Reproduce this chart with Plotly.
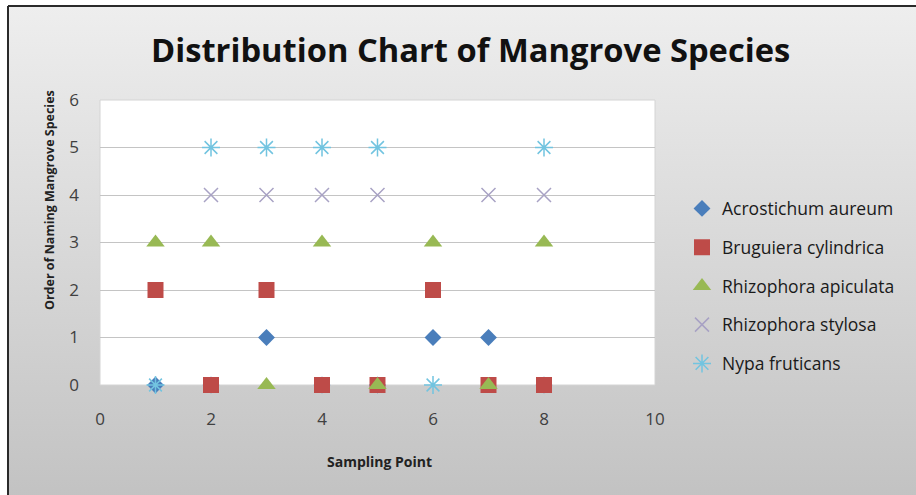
import plotly.graph_objects as go
import base64

# ---------------- data ----------------
sampling_points = [1, 2, 3, 4, 5, 6, 7, 8]
acrostichum_aureum = [0, 0, 1, 0, 0, 1, 1, 0]
bruguiera_cylindrica = [2, 0, 2, 0, 0, 2, 0, 0]
rhizophora_apiculata = [3, 3, 0, 3, 0, 3, 0, 3]
rhizophora_stylosa = [None, 4, 4, 4, 4, None, 4, 4]
nypa_fruticans = [0, 5, 5, 5, 5, 0, None, 5]
x_ticks = [0, 2, 4, 6, 8, 10]
y_ticks = [0, 1, 2, 3, 4, 5, 6]

series = [
    ("Acrostichum aureum", acrostichum_aureum, dict(symbol="diamond", size=13, color="#4a7ebb")),
    ("Bruguiera cylindrica", bruguiera_cylindrica, dict(symbol="square", size=16, color="#be4b48")),
    ("Rhizophora apiculata", rhizophora_apiculata, dict(symbol="triangle-up", size=16, color="#98b954")),
    ("Rhizophora stylosa", rhizophora_stylosa, dict(symbol="x-thin-open", size=14, color="#a8a2c4", line=dict(width=1.5, color="#a8a2c4"))),
    ("Nypa fruticans", nypa_fruticans, dict(symbol="asterisk-open", size=15, color="#72c4e0", line=dict(width=1.5, color="#72c4e0"))),
]

W, H = 916, 495
L, R, T, B = 100, 655, 100, 385  # plot area pixels

def px_x(p):
    return (p - L) / (R - L)

def px_y(p):
    return (B - p) / (B - T)

fig = go.Figure()
for i, (name, ys, mk) in enumerate(series):
    fig.add_trace(go.Scatter(
        x=sampling_points, y=ys, mode="markers", name=name,
        marker=mk, cliponaxis=False, legendgroup=str(i),
    ))

# gradient background with border as an svg image
svg = f'''<svg xmlns="http://www.w3.org/2000/svg" width="{W}" height="{H}" viewBox="0 0 {W} {H}">
<defs><linearGradient id="g" x1="0" y1="0" x2="0" y2="1">
<stop offset="0" stop-color="#eeeeee"/><stop offset="1" stop-color="#c2c2c2"/></linearGradient></defs>
<rect x="0" y="0" width="{W}" height="{H}" fill="#ffffff"/>
<rect x="8" y="6" width="{W}" height="{H}" fill="url(#g)"/>
<line x1="8" y1="6" x2="{W}" y2="6" stroke="#2a2a2a" stroke-width="2"/>
<line x1="8" y1="6" x2="8" y2="{H}" stroke="#2a2a2a" stroke-width="2"/>
</svg>'''
src = "data:image/svg+xml;base64," + base64.b64encode(svg.encode()).decode()

FONT = "Open Sans, Lato, sans-serif"

fig.update_layout(
    width=W, height=H,
    margin=dict(l=L, r=W - R, t=T, b=H - B, pad=0),
    paper_bgcolor="#ffffff",
    plot_bgcolor="rgba(0,0,0,0)",
    font=dict(family=FONT, color="#404040"),
    images=[dict(source=src, xref="paper", yref="paper",
                 x=px_x(0), y=px_y(0), sizex=px_x(W) - px_x(0), sizey=px_y(0) - px_y(H),
                 xanchor="left", yanchor="top", sizing="stretch", layer="below")],
    shapes=[dict(type="rect", xref="paper", yref="paper", x0=0, x1=1, y0=0, y1=1,
                 fillcolor="#ffffff", line=dict(color="#d4d4d4", width=1), layer="below")],
    xaxis=dict(range=[0, 10], tickvals=x_ticks, showgrid=False, zeroline=False,
               showline=False, ticks="", tickfont=dict(size=17, color="#404040"),
               ticklabelstandoff=22),
    yaxis=dict(range=[0, 6], tickvals=y_ticks, showgrid=True, gridcolor="#c4c4c4", gridwidth=1,
               zeroline=False, showline=False, ticks="", tickfont=dict(size=17, color="#404040"),
               ticklabelstandoff=20),
    showlegend=True,
    legend=dict(x=px_x(682), y=px_y(286), xanchor="left", yanchor="middle",
                bgcolor="rgba(0,0,0,0)", font=dict(size=17.5, color="#1a1a1a"),
                tracegroupgap=13, itemwidth=30),
    annotations=[
        dict(text="<b>Distribution Chart of Mangrove Species</b>", xref="paper", yref="paper",
             x=px_x(471), y=px_y(50), xanchor="center", yanchor="middle", showarrow=False,
             font=dict(size=32.7, color="#111111")),
        dict(text="<b>Sampling Point</b>", xref="paper", yref="paper",
             x=px_x(379), y=px_y(461), xanchor="center", yanchor="middle", showarrow=False,
             font=dict(size=14, color="#222222")),
        dict(text="<b>Order of Naming Mangrove Species</b>", xref="paper", yref="paper",
             x=px_x(49), y=px_y(200), xanchor="center", yanchor="middle", showarrow=False,
             textangle=-90, font=dict(size=12.5, color="#222222")),
    ],
)

fig.write_html("out.html", config={"displayModeBar": False},
               post_script="document.body.style.margin='0';document.body.style.overflow='hidden';document.documentElement.style.overflow='hidden';")
